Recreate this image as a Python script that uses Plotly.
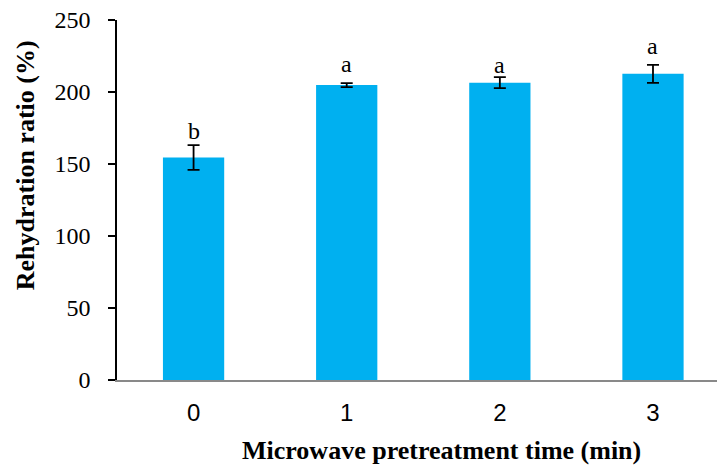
import plotly.graph_objects as go

categories = ["0", "1", "2", "3"]
values = [154.5, 204.8, 206.5, 212.6]
errors = [8.6, 1.4, 3.8, 6.2]
letters = ["b", "a", "a", "a"]
letter_y = [166.7, 213.4, 212.5, 225.7]
y_ticks = [0, 50, 100, 150, 200, 250]

fig = go.Figure()
fig.add_trace(go.Bar(
    x=[0, 1, 2, 3], y=values, width=0.4,
    marker=dict(color="#00B0F0", line=dict(width=0)),
    error_y=dict(type="data", array=errors, visible=True, color="black", thickness=1.8, width=6),
))
for i, (t, yv) in enumerate(zip(letters, letter_y)):
    fig.add_annotation(x=i, y=yv, text=t, showarrow=False, yanchor="bottom",
                       font=dict(family="Liberation Serif", size=24, color="black"), yshift=-6)

fig.add_annotation(xref="paper", yref="paper", x=0.54, y=-0.197, text="<b>Microwave pretreatment time (min)</b>",
                   showarrow=False, xanchor="center", yanchor="middle",
                   font=dict(family="Liberation Serif", size=26, color="black"))
fig.add_annotation(xref="paper", yref="paper", x=-0.153, y=0.597, text="<b>Rehydration ratio (%)</b>",
                   showarrow=False, xanchor="center", yanchor="middle", textangle=-90,
                   font=dict(family="Liberation Serif", size=26, color="black"))

fig.update_layout(
    width=717, height=468,
    margin=dict(l=117, r=0, t=20, b=88),
    plot_bgcolor="white", paper_bgcolor="white",
    showlegend=False,
    xaxis=dict(range=[-0.5, 3.418], tickvals=[0, 1, 2, 3], ticktext=categories,
               showline=True, linecolor="#898989", linewidth=1.5, ticks="",
               showgrid=False, zeroline=False, ticklabelstandoff=10,
               tickfont=dict(family="Liberation Sans", size=24, color="black")),
    yaxis=dict(range=[0, 250], tickvals=y_ticks, showline=True, linecolor="black", linewidth=1.5,
               ticks="outside", ticklen=7, tickcolor="black", tickwidth=1.5,
               showgrid=False, zeroline=False, ticklabelstandoff=13,
               tickfont=dict(family="Liberation Serif", size=24, color="black")),
)
fig.write_html("out.html")
